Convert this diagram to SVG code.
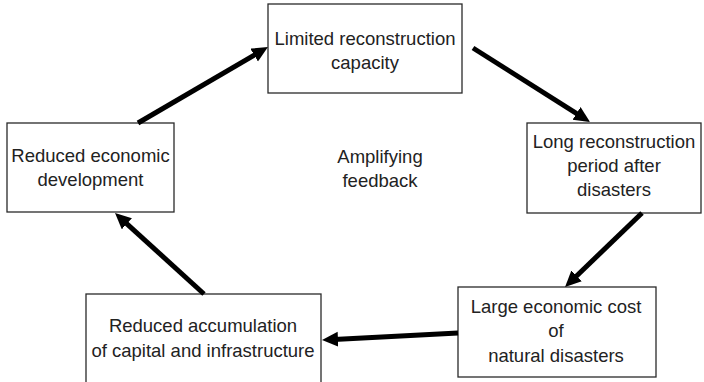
<svg xmlns="http://www.w3.org/2000/svg" width="704" height="382" viewBox="0 0 704 382">
<style>
.box{fill:#fff;stroke:#2a2a2a;stroke-width:1.3}
text{font-family:"Liberation Sans",Arial,sans-serif;font-size:18.5px;fill:#222;text-anchor:middle}
.arr{stroke:#000;stroke-width:5;fill:none;marker-end:url(#ah)}
</style>
<defs>
<marker id="ah" markerUnits="userSpaceOnUse" markerWidth="18" markerHeight="16" refX="4" refY="7.5" orient="auto">
<path d="M0,0 L16,7.5 L0,15 z" fill="#000"/>
</marker>
</defs>
<rect width="704" height="382" fill="#fff"/>
<g id="n1"><rect class="box" x="268" y="4" width="194" height="89"/><text x="365" y="45">Limited reconstruction</text><text x="365" y="69">capacity</text></g>
<g id="n2"><rect class="box" x="527" y="123" width="174" height="90"/><text x="614" y="148">Long reconstruction</text><text x="614" y="172">period after</text><text x="614" y="196">disasters</text></g>
<g id="n3"><rect class="box" x="458" y="287" width="198" height="90"/><text x="556" y="313">Large economic cost</text><text x="556" y="337">of</text><text x="556" y="362">natural disasters</text></g>
<g id="n4"><rect class="box" x="86" y="294" width="235" height="100"/><text x="203" y="332">Reduced accumulation</text><text x="203" y="357">of capital and infrastructure</text></g>
<g id="n5"><rect class="box" x="7" y="123" width="167" height="89"/><text x="90.5" y="162">Reduced economic</text><text x="90.5" y="186">development</text></g>
<g id="label"><text x="380" y="163">Amplifying</text><text x="380" y="187">feedback</text></g>
<g id="connectors">
<line class="arr" x1="138" y1="123" x2="257.6" y2="53.1"/>
<line class="arr" x1="473" y1="48" x2="579.9" y2="115.6"/>
<line class="arr" x1="642" y1="213" x2="573.7" y2="278.7"/>
<line class="arr" x1="458" y1="333" x2="334" y2="339.4"/>
<line class="arr" x1="204" y1="294" x2="123.9" y2="221.1"/>
</g>
</svg>
